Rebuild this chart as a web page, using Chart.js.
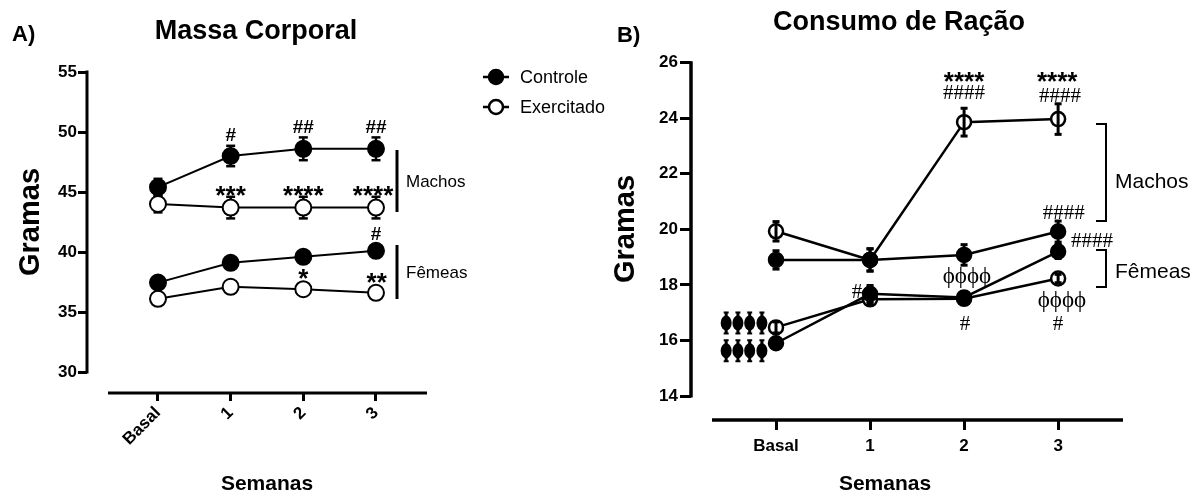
<!DOCTYPE html>
<html>
<head>
<meta charset="utf-8">
<script src="https://cdn.jsdelivr.net/npm/chart.js@4.4.1/dist/chart.umd.min.js"></script>
<style>
  html, body { margin: 0; padding: 0; background: #fff; }
  #wrap { position: relative; width: 1204px; height: 490px; }
  canvas { position: absolute; left: 0; top: 0; }
</style>
</head>
<body>
<div id="wrap">
  <canvas id="massa" width="1204" height="490"></canvas>
  <canvas id="racao" width="1204" height="490"></canvas>
</div>
<script>
// Semanas (eixo x)
const semanas = ['Basal', '1', '2', '3'];

// A) Massa Corporal (g) - media e erro padrao
const massaControleMachos = [45.4, 48.0, 48.6, 48.6];
const massaControleMachosErr = [0.7, 0.85, 0.95, 0.95];
const massaExercMachos = [44.0, 43.7, 43.7, 43.7];
const massaExercMachosErr = [0.7, 0.9, 0.9, 0.9];
const massaControleFemeas = [37.45, 39.1, 39.6, 40.1];
const massaControleFemeasErr = [0.4, 0.4, 0.4, 0.4];
const massaExercFemeas = [36.1, 37.1, 36.9, 36.6];
const massaExercFemeasErr = [0.3, 0.3, 0.3, 0.3];
const massaTicks = [30, 35, 40, 45, 50, 55];

// B) Consumo de Racao (g)
const racaoControleMachos = [18.9, 18.9, 19.08, 19.92];
const racaoControleMachosErr = [0.33, 0.4, 0.37, 0.38];
const racaoExercMachos = [19.93, 18.9, 23.86, 23.97];
const racaoExercMachosErr = [0.35, 0.4, 0.5, 0.55];
const racaoControleFemeas = [15.9, 17.68, 17.55, 19.2];
const racaoControleFemeasErr = [0.15, 0.3, 0.2, 0.25];
const racaoExercFemeas = [16.47, 17.48, 17.5, 18.23];
const racaoExercFemeasErr = [0.2, 0.15, 0.15, 0.15];
const racaoTicks = [14, 16, 18, 20, 22, 24, 26];

Chart.defaults.font.family = "'Liberation Sans', Arial, sans-serif";
Chart.defaults.color = '#000';

const SANS = "'Liberation Sans', Arial, sans-serif";
const SERIF = "'Liberation Serif', 'DejaVu Serif', serif";

function serie(values, filled, radius, width) {
    return {
        data: values.map((v, i) => ({ x: i, y: v })),
        borderColor: '#000',
        borderWidth: width,
        pointRadius: radius,
        pointBorderWidth: width,
        pointBackgroundColor: filled ? '#000' : '#fff',
        pointBorderColor: '#000',
        showLine: true,
        tension: 0,
        clip: false
    };
}

// Text helper: cy is the visual centre of the glyph, mid = glyph centre above baseline (em)
function mark(ctx, s, cx, cy, font, size, mid, align) {
    ctx.font = font.replace('SIZE', size + 'px');
    ctx.textAlign = align || 'center';
    ctx.textBaseline = 'alphabetic';
    ctx.fillText(s, cx, cy + mid * size);
}

function seg(ctx, x1, y1, x2, y2) {
    ctx.beginPath();
    ctx.moveTo(x1, y1);
    ctx.lineTo(x2, y2);
    ctx.stroke();
}

// Error bars drawn from the *Err arrays
const errorBars = {
    id: 'errorBars',
    beforeDatasetsDraw(chart, args, opts) { if (!opts.front) drawBars(chart, opts); },
    afterDatasetsDraw(chart, args, opts) { if (opts.front) drawBars(chart, opts); }
};

function drawBars(chart, opts) {
    const ctx = chart.ctx;
    const xs = chart.scales.x, ys = chart.scales.y;
    ctx.save();
    ctx.strokeStyle = '#000';
    ctx.lineWidth = opts.width;
    chart.data.datasets.forEach((ds, d) => {
        const errs = opts.errs[d];
        ds.data.forEach((p, i) => {
            const x = xs.getPixelForValue(p.x);
            const yt = ys.getPixelForValue(p.y + errs[i]);
            const yb = ys.getPixelForValue(p.y - errs[i]);
            seg(ctx, x, yt, x, yb);
            seg(ctx, x - opts.cap, yt, x + opts.cap, yt);
            seg(ctx, x - opts.cap, yb, x + opts.cap, yb);
        });
    });
    ctx.restore();
}

function axisOpts(min, max, ticks, labels, isX, tickLen, pad, fit, rot) {
    return {
        type: 'linear',
        min: min,
        max: max,
        afterBuildTicks: s => { s.ticks = ticks.map(v => ({ value: v })); },
        afterFit: s => { if (isX) s.height = fit; else s.width = fit; },
        grid: { display: true, drawOnChartArea: false, drawTicks: true, tickLength: tickLen, tickWidth: 3, tickColor: '#000' },
        border: { display: false },
        ticks: {
            color: '#000',
            padding: pad,
            autoSkip: false,
            minRotation: rot || 0,
            maxRotation: rot || 0,
            font: { size: 17, weight: 'bold' },
            callback: v => labels ? labels[v] : v
        }
    };
}

// ---------- A) Massa Corporal ----------
const decorMassa = {
    id: 'decorMassa',
    afterDraw(chart) {
        const ctx = chart.ctx;
        const xs = chart.scales.x, ys = chart.scales.y;
        const px = v => xs.getPixelForValue(v);
        const py = v => ys.getPixelForValue(v);
        ctx.save();
        ctx.fillStyle = '#000';
        ctx.strokeStyle = '#000';

        // axes
        ctx.lineWidth = 3;
        const ax = chart.chartArea.left;
        seg(ctx, ax, py(55) - 1.5, ax, py(30) + 1.5);
        seg(ctx, 108, chart.chartArea.bottom, 427, chart.chartArea.bottom);

        // titles
        mark(ctx, 'A)', 12, 33, "bold SIZE " + SANS, 22, 0.36, 'left');
        mark(ctx, 'Massa Corporal', 256, 29, "bold SIZE " + SANS, 27, 0.36);
        mark(ctx, 'Semanas', 267, 482, "bold SIZE " + SANS, 21, 0.36);
        ctx.save();
        ctx.translate(29, 222);
        ctx.rotate(-Math.PI / 2);
        mark(ctx, 'Gramas', 0, 0, "bold SIZE " + SANS, 29, 0.36);
        ctx.restore();

        // significance marks
        const B = "bold SIZE " + SANS;
        [['#', 1, 49.83, 19, 0.35], ['##', 2, 50.5, 19, 0.35], ['##', 3, 50.5, 19, 0.35],
         ['***', 1, 45.25, 26, 0.57], ['****', 2, 45.25, 26, 0.57], ['****', 2.96, 45.25, 26, 0.57],
         ['#', 3, 41.58, 19, 0.35], ['*', 2, 38.33, 26, 0.57], ['**', 3.01, 38.0, 26, 0.57]
        ].forEach(a => mark(ctx, a[0], px(a[1]), py(a[2]), B, a[3], a[4]));

        // group brackets
        ctx.lineWidth = 3;
        seg(ctx, 397, 150, 397, 212);
        seg(ctx, 397, 245, 397, 299);
        mark(ctx, 'Machos', 406, 181, "SIZE " + SANS, 17, 0.36, 'left');
        mark(ctx, 'Fêmeas', 406, 272, "SIZE " + SANS, 17, 0.36, 'left');

        // legend
        [['Controle', 77, '#000'], ['Exercitado', 107, '#fff']].forEach(l => {
            ctx.lineWidth = 2.5;
            seg(ctx, 483, l[1], 509, l[1]);
            ctx.beginPath();
            ctx.arc(496, l[1], 7, 0, Math.PI * 2);
            ctx.fillStyle = l[2];
            ctx.fill();
            ctx.stroke();
            ctx.fillStyle = '#000';
            mark(ctx, l[0], 520, l[1], "SIZE " + SANS, 18, 0.36, 'left');
        });
        ctx.restore();
    }
};

new Chart(document.getElementById('massa'), {
    type: 'scatter',
    data: {
        datasets: [
            serie(massaControleMachos, true, 8, 2),
            serie(massaExercMachos, false, 8, 2),
            serie(massaControleFemeas, true, 8, 2),
            serie(massaExercFemeas, false, 8, 2)
        ]
    },
    options: {
        responsive: false,
        animation: false,
        events: [],
        layout: { padding: { left: 0, top: 72, right: 777, bottom: 0 } },
        scales: {
            x: axisOpts(-0.977, 3.702, [0, 1, 2, 3], semanas, true, 8, 2, 97, 45),
            y: axisOpts(28.25, 55, massaTicks, null, false, 9, 1, 87)
        },
        plugins: {
            legend: { display: false },
            tooltip: { enabled: false },
            errorBars: {
                front: false, width: 2.5, cap: 4.5,
                errs: [massaControleMachosErr, massaExercMachosErr, massaControleFemeasErr, massaExercFemeasErr]
            }
        }
    },
    plugins: [errorBars, decorMassa]
});

// ---------- B) Consumo de Racao ----------
function phiMark(ctx, cx, cy) {
    ctx.beginPath();
    ctx.ellipse(cx, cy, 5.5, 7.5, 0, 0, Math.PI * 2);
    ctx.fill();
    ctx.lineWidth = 3;
    seg(ctx, cx, cy - 10.5, cx, cy + 10.5);
    ctx.lineWidth = 2;
    seg(ctx, cx - 2.5, cy - 10.5, cx + 2.5, cy - 10.5);
    seg(ctx, cx - 2.5, cy + 10.5, cx + 2.5, cy + 10.5);
}

const decorRacao = {
    id: 'decorRacao',
    afterDraw(chart) {
        const ctx = chart.ctx;
        const xs = chart.scales.x, ys = chart.scales.y;
        const px = v => xs.getPixelForValue(v);
        const py = v => ys.getPixelForValue(v);
        ctx.save();
        ctx.fillStyle = '#000';
        ctx.strokeStyle = '#000';

        // axes
        ctx.lineWidth = 3.5;
        const ax = chart.chartArea.left;
        seg(ctx, ax, py(26) - 1.5, ax, py(14) + 1.5);
        seg(ctx, 712, chart.chartArea.bottom, 1123, chart.chartArea.bottom);

        // titles
        mark(ctx, 'B)', 617, 34, "bold SIZE " + SANS, 22, 0.36, 'left');
        mark(ctx, 'Consumo de Ração', 773, 20, "bold SIZE " + SANS, 27, 0.36, 'left');
        mark(ctx, 'Semanas', 885, 482, "bold SIZE " + SANS, 21, 0.36);
        ctx.save();
        ctx.translate(624, 229);
        ctx.rotate(-Math.PI / 2);
        mark(ctx, 'Gramas', 0, 0, "bold SIZE " + SANS, 29, 0.36);
        ctx.restore();

        // significance marks
        const B = "bold SIZE " + SANS;
        const R = "SIZE " + SERIF;
        mark(ctx, '****', px(2), py(25.56), B, 26, 0.57);
        mark(ctx, '****', px(2.99), py(25.56), B, 26, 0.57);
        mark(ctx, '####', px(2), py(24.95), R, 21, 0.34);
        mark(ctx, '####', px(3.02), py(24.84), R, 21, 0.34);
        mark(ctx, '####', px(3.06), py(20.63), R, 21, 0.34);
        mark(ctx, '####', px(3.36), py(19.62), R, 21, 0.34);
        mark(ctx, 'ϕϕϕϕ', px(2.03), py(18.25), R, 23, 0.24);
        mark(ctx, 'ϕϕϕϕ', px(3.04), py(17.39), R, 23, 0.24);
        mark(ctx, '#', px(2.01), py(16.63), R, 21, 0.34);
        mark(ctx, '#', px(3), py(16.63), R, 21, 0.34);
        mark(ctx, '#', px(0.86), py(17.78), R, 21, 0.34);
        [-0.53, -0.405, -0.28, -0.15].forEach(x => {
            phiMark(ctx, px(x), py(16.63));
            phiMark(ctx, px(x), py(15.63));
        });

        // group brackets
        ctx.lineWidth = 2;
        ctx.beginPath();
        ctx.moveTo(1096, 124); ctx.lineTo(1106, 124); ctx.lineTo(1106, 221); ctx.lineTo(1096, 221);
        ctx.stroke();
        ctx.beginPath();
        ctx.moveTo(1096, 250); ctx.lineTo(1106, 250); ctx.lineTo(1106, 287); ctx.lineTo(1096, 287);
        ctx.stroke();
        mark(ctx, 'Machos', 1115, 180, "SIZE " + SANS, 21, 0.36, 'left');
        mark(ctx, 'Fêmeas', 1115, 270, "SIZE " + SANS, 21, 0.36, 'left');
        ctx.restore();
    }
};

new Chart(document.getElementById('racao'), {
    type: 'scatter',
    data: {
        datasets: [
            serie(racaoControleMachos, true, 7, 2.5),
            serie(racaoExercMachos, false, 7, 2.5),
            serie(racaoControleFemeas, true, 7, 2.5),
            serie(racaoExercFemeas, false, 7, 2.5)
        ]
    },
    options: {
        responsive: false,
        animation: false,
        events: [],
        layout: { padding: { left: 0, top: 62.7, right: 81, bottom: 0 } },
        scales: {
            x: axisOpts(-0.904, 3.69, [0, 1, 2, 3], semanas, true, 10, 6, 70),
            y: axisOpts(13.137, 26, racaoTicks, null, false, 11, 2, 691)
        },
        plugins: {
            legend: { display: false },
            tooltip: { enabled: false },
            errorBars: {
                front: true, width: 3, cap: 3.5,
                errs: [racaoControleMachosErr, racaoExercMachosErr, racaoControleFemeasErr, racaoExercFemeasErr]
            }
        }
    },
    plugins: [errorBars, decorRacao]
});
</script>
</body>
</html>
